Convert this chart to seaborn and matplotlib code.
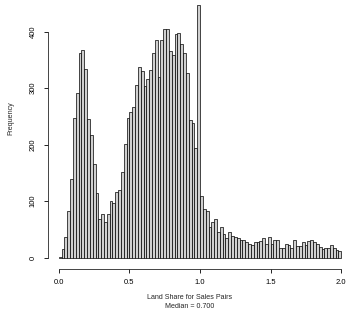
import numpy as np
import pandas as pd
from matplotlib import pyplot as plt
import seaborn as sns

# histogram counts, one per 0.02 bin from 0 to 2
first_mode = [2, 15, 37, 83, 139, 248, 291, 363, 368, 334, 245, 217, 166, 114,
              68, 77, 63, 77, 101, 96, 116]
second_mode = [119, 152, 201, 248, 258, 267, 306, 338, 331, 304, 316, 333, 363,
               385, 319, 385, 404, 404, 365, 359, 395, 398, 379, 362, 327, 244,
               239, 195]
spike = [447]
tail = [109, 86, 82, 54, 63, 68, 46, 54, 42, 34, 46, 39, 36, 35, 31, 31, 27, 25,
        22, 27, 27, 29, 34, 24, 36, 24, 31, 32, 18, 18, 24, 22, 18, 32, 21, 21,
        27, 22, 30, 31, 28, 24, 19, 15, 18, 18, 22, 18, 14, 11]

x_ticks = [0.0, 0.5, 1.0, 1.5, 2.0]
x_tick_labels = ["0.0", "0.5", "1.0", "1.5", "2.0"]
y_ticks = [0, 100, 200, 300, 400]
y_tick_labels = ["0", "100", "200", "300", "400"]

counts = first_mode + second_mode + spike + tail
bin_width = 0.02
edges = [round(i * bin_width, 2) for i in range(len(counts) + 1)]
mids = [(a + b) / 2 for a, b in zip(edges[:-1], edges[1:])]
df = pd.DataFrame({"share": mids, "n": counts})

sns.set_style("ticks")
plt.rcParams['font.family'] = ['Liberation Sans', 'DejaVu Sans']

fig = plt.figure(figsize=(3.48, 3.22), dpi=100)
ax = fig.add_axes([0.1486, 0.1786, 0.8484, 0.8196])

sns.histplot(data=df, x="share", weights="n", bins=edges, stat="count",
             color="#d0d0d0", edgecolor="black", linewidth=0.5, alpha=1, ax=ax)

ax.set_xlim(-0.05, 2.04)
ax.set_ylim(-12, 455)

# R style detached axes
for s in ["top", "right"]:
    ax.spines[s].set_visible(False)
ax.spines["left"].set_position(("outward", 2.9))
ax.spines["bottom"].set_position(("outward", 3.2))
ax.spines["left"].set_bounds(0, 400)
ax.spines["bottom"].set_bounds(0, 2)
for s in ["left", "bottom"]:
    ax.spines[s].set_linewidth(0.6)

ax.set_xticks(x_ticks)
ax.set_xticklabels(x_tick_labels, fontsize=5.5)
ax.set_yticks(y_ticks)
ax.set_yticklabels(y_tick_labels, fontsize=5.5, rotation=90, va="center")
ax.tick_params(axis="both", length=3.0, width=0.6, colors="black")
ax.tick_params(axis="x", pad=4.2)
ax.tick_params(axis="y", pad=5.0)

ax.set_xlabel("Land Share for Sales Pairs\nMedian = 0.700", fontsize=5.1,
              linespacing=1.35, va="center")
ax.xaxis.set_label_coords(0.468, -0.142)
ax.set_ylabel("Frequency", fontsize=5.1, va="center")
ax.yaxis.set_label_coords(-0.138, 0.555)

plt.savefig("out.png", dpi=100)
